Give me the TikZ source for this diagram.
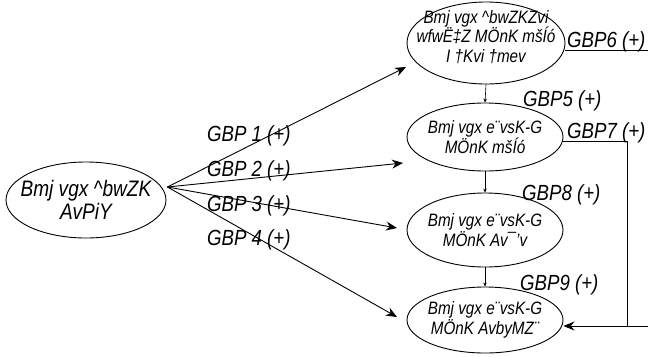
\documentclass[tikz,border=0pt]{standalone}
\usepackage{fontspec}
\newfontfamily\bnf{Liberation Sans}[FakeStretch=0.85]
\usetikzlibrary{shapes.geometric,arrows.meta,calc}
\begin{document}
\begin{tikzpicture}[x=1bp,y=-1bp,
  ell/.style={ellipse,draw,line width=0.9bp,inner sep=-14bp,align=center,
    font=\bnf\itshape\fontsize{18}{19.5}\selectfont},
  lbl/.style={font=\bnf\itshape\fontsize{22}{24}\selectfont,inner sep=0pt,anchor=base west},
  conn/.style={line width=0.9bp,-{Stealth[length=11bp,width=9bp]}},
  plain/.style={line width=0.9bp},
  small/.style={line width=0.6bp,-{Stealth[length=4bp,width=3.5bp]}}]
\useasboundingbox (0,0) rectangle (648,356);
% nodes
\node[ell,minimum width=160bp,minimum height=76bp,
  font=\bnf\itshape\fontsize{22.5}{23}\selectfont] (L) at (86,200) {Bmj vgx \textasciicircum bwZK\\AvPiY};
\node[ell,minimum width=158bp,minimum height=82bp] (E1) at (486,43) {Bmj vgx \textasciicircum bwZKZvi\\wfwË‡Z MÖnK mšÍó\\I †Kvi †mev\\[-6bp]};
\node[ell,minimum width=156bp,minimum height=68bp] (E2) at (485,137) {Bmj vgx e¨vsK-G\\MÖnK mšÍó};
\node[ell,minimum width=156bp,minimum height=74bp] (E3) at (485,230) {Bmj vgx e¨vsK-G\\MÖnK Av¯’v};
\node[ell,minimum width=156bp,minimum height=66bp] (E4) at (485,320) {Bmj vgx e¨vsK-G\\MÖnK AvbyMZ¨};
% coordinates
\coordinate (fan) at ($(L.east)+(1,-13)$);
\coordinate (t1) at ($(E1.center)+(-80,24)$);
\coordinate (t2) at ($(E2.center)+(-82,26)$);
\coordinate (t3) at ($(E3.center)+(-88,-2)$);
\coordinate (t4) at ($(E4.center)+(-88,-3)$);
\coordinate (c7) at (627,141);
\coordinate (r4) at (648,326);
\coordinate (u6) at (648,50);
% fan arrows
\draw[conn] (fan) -- (t1);
\draw[conn] (fan) -- (t2);
\draw[conn] (fan) -- (t3);
\draw[conn] (fan) -- (t4);
% vertical small arrows
\draw[small] (E1.south) -- (E2.north);
\draw[small] (E2.south) -- (E3.north);
\draw[small] (E3.south) -- (E4.north);
% right side lines
\draw[plain] (E1.east |- u6) -- (u6);
\draw[plain] (E2.east |- c7) -- (c7) -- (c7 |- r4);
\draw[conn] (r4) -- (E4.east |- r4);
% labels
\node[lbl] (g1) at (207,141) {GBP 1 (+)};
\node[lbl] (g2) at (207,176) {GBP 2 (+)};
\node[lbl] (g3) at (207,211) {GBP 3 (+)};
\node[lbl] (g4) at (207,245) {GBP 4 (+)};
\node[lbl] (g5) at (523,106) {GBP5 (+)};
\node[lbl] (g6) at (567,47) {GBP6 (+)};
\node[lbl] (g7) at (567,138) {GBP7 (+)};
\node[lbl] (g8) at (522,200) {GBP8 (+)};
\node[lbl] (g9) at (520,290) {GBP9 (+)};
\end{tikzpicture}
\end{document}
